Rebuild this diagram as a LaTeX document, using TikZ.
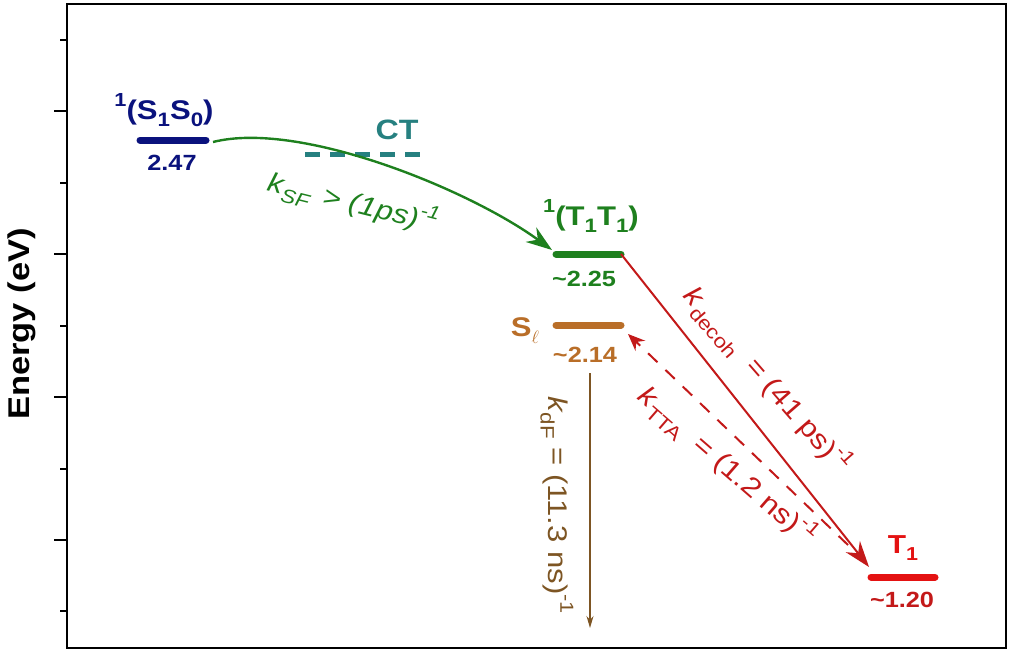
\documentclass[tikz,border=0pt]{standalone}
\usepackage{fontspec}
\setmainfont{Liberation Sans}[FakeStretch=1.15]
\usetikzlibrary{arrows.meta}
\definecolor{cnavy}{RGB}{10,18,125}
\definecolor{cteal}{RGB}{38,128,128}
\definecolor{cgreen}{RGB}{30,128,30}
\definecolor{cbrown}{RGB}{185,110,40}
\definecolor{cdbrown}{RGB}{125,85,35}
\definecolor{cred}{RGB}{195,25,25}
\definecolor{cbred}{RGB}{228,18,18}
\newcommand{\mysub}[1]{\raisebox{-0.28em}{\scalebox{0.72}{#1}}}
\newcommand{\mysup}[1]{\raisebox{0.45em}{\scalebox{0.7}{#1}}}
\newcommand{\fs}[1]{\fontsize{#1}{#1}\selectfont}
\begin{document}
\begin{tikzpicture}[x=1pt,y=-1pt,
  bar/.style={line width=7pt,line cap=round},
  lvl/.style={font=\bfseries\fs{27}, inner sep=0pt, anchor=base},
  num/.style={font=\bfseries\fs{22}, inner sep=0pt},
  rate/.style={font=\fs{27}, inner sep=0pt},
  tick/.style={line width=2.2pt}]
\useasboundingbox (0,0) rectangle (1014,654);
% frame and ticks
\draw[line width=2.6pt] (67,4) rectangle (1006,648);
\foreach \yy in {111,254,397,540} \draw[tick] (54,\yy) -- (67,\yy);
\foreach \yy in {40,183,326,469,611} \draw[tick] (60,\yy) -- (67,\yy);
\node[rotate=90, font=\bfseries\fs{30}] (ylab) at (22,324) {Energy (eV)};
% level end points
\coordinate (sA) at (140,140); \coordinate (sB) at (206,140);
\coordinate (cA) at (305,154); \coordinate (cB) at (420,154);
\coordinate (tA) at (556,254); \coordinate (tB) at (621,254);
\coordinate (lA) at (556,325); \coordinate (lB) at (621,325);
\coordinate (pA) at (871,577); \coordinate (pB) at (935,577);
% levels
\draw[bar, cnavy] (sA) -- (sB);
\draw[cteal, line width=5pt, dash pattern=on 15pt off 10pt] (cA) -- (cB);
\draw[bar, cgreen] (tA) -- (tB);
\draw[bar, cbrown] (lA) -- (lB);
\draw[bar, cbred] (pA) -- (pB);
% level labels
\node[lvl, cnavy] (s1s0) at (164,119) {\mysup{1}(S\mysub{1}S\mysub{0})};
\node[num, cnavy] (s1s0n) at (172,163) {2.47};
\node[lvl, cteal, font=\bfseries\fs{28}] (ct) at (397,139) {CT};
\node[lvl, cgreen] (tt) at (591,225) {\mysup{1}(T\mysub{1}T\mysub{1})};
\node[num, cgreen] (ttn) at (584,279) {\textasciitilde2.25};
\node[lvl, cbrown] (sl) at (525,336) {S\mysub{$\ell$}};
\node[num, cbrown] (sln) at (585,355) {\textasciitilde2.14};
\node[lvl, cbred, font=\bfseries\fs{26}] (t1) at (903,553) {T\mysub{1}};
\node[num, cred] (t1n) at (902,600) {\textasciitilde1.20};
% connectors
\coordinate (gS) at (213,142);
\coordinate (gE) at (552,250);
\draw[cgreen, line width=2.4pt, -{Stealth[length=26pt,width=18pt]}]
  (gS) .. controls (300,120) and (470,190) .. (gE);
\coordinate (dS) at (590,373);
\coordinate (dE) at (590,628);
\draw[cdbrown, line width=1.3pt, -{Stealth[length=12pt,width=7pt]}] (dS) -- (dE);
\coordinate (rE) at (869,567);
\draw[cred, line width=2pt, -{Stealth[length=26pt,width=18pt]}] (tB) -- (rE);
\coordinate (xS) at (848,545);
\coordinate (xE) at (628,334);
\draw[cred, line width=2pt, dash pattern=on 13pt off 11pt, -{Stealth[length=17pt,width=14pt]}] (xS) -- (xE);
% rate labels
\node[rate, cgreen, rotate=-14] (ksf) at (353,203) {\itshape k\mysub{SF} \,> (1ps)\mysup{-1}};
\node[rate, cdbrown, rotate=-90] (kdf) at (557,505) {\textit{k}\mysub{dF} = (11.3 ns)\mysup{-1}};
\node[rate, cred, rotate=-49] (kdec) at (767,380) {\textit{k}\mysub{decoh} \;= (41 ps)\mysup{-1}};
\node[rate, cred, rotate=-41] (ktta) at (727,466) {\textit{k}\mysub{TTA} \;= (1.2 ns)\mysup{-1}};
\end{tikzpicture}
\end{document}
